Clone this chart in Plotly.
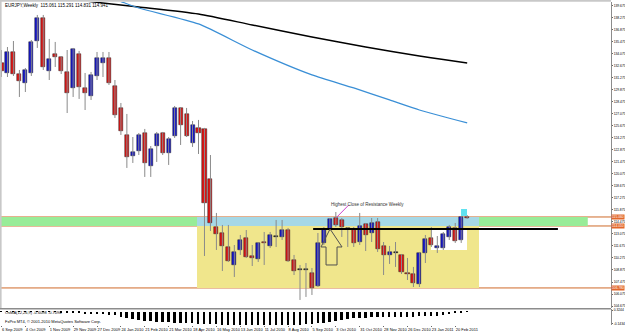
import plotly.graph_objects as go

# ---------------- data (EURJPY weekly) ----------------
date_labels = ["6 Sep 2009", "4 Oct 2009", "1 Nov 2009", "29 Nov 2009", "27 Dec 2009",
               "24 Jan 2010", "21 Feb 2010", "21 Mar 2010", "18 Apr 2010", "16 May 2010",
               "13 Jun 2010", "11 Jul 2010", "8 Aug 2010", "5 Sep 2010", "3 Oct 2010",
               "31 Oct 2010", "28 Nov 2010", "26 Dec 2010", "23 Jan 2011", "20 Feb 2011"]

opens = [133.03, 131.86, 134.31, 131.74, 130.69, 131.86, 135.59, 138.28, 132.09, 134.08,
         133.73, 131.98, 130.11, 134.08, 130.11, 129.18, 131.51, 133.03, 133.61, 130.34,
         127.78, 124.63, 122.18, 122.76, 124.86, 121.01, 123.34, 124.86, 122.53, 124.51,
         127.78, 127.08, 123.69, 125.44, 125.33, 119.49, 113.89, 113.19, 111.56, 109.46,
         111.21, 112.61, 110.51, 110.16, 112.14, 111.68, 112.73, 112.73, 113.54, 110.04,
         108.88, 108.88, 108.53, 107.01, 112.03, 113.66, 114.94, 114.71, 113.66, 113.66,
         112.14, 114.24, 113.19, 114.48, 111.68, 110.63, 110.86, 110.63, 108.53, 108.41,
         107.24, 110.86, 112.61, 111.44, 111.44, 112.73, 113.78, 112.38, 115.06]
highs = [134.54, 134.89, 135.59, 132.21, 132.44, 135.71, 138.63, 138.63, 135.83, 135.48,
         133.84, 134.54, 134.78, 134.43, 131.86, 131.98, 134.31, 134.31, 134.31, 131.04,
         128.36, 127.08, 124.39, 124.86, 125.33, 123.34, 124.98, 124.98, 124.39, 128.01,
         127.89, 127.78, 126.26, 126.38, 125.45, 122.29, 115.53, 114.13, 114.13, 111.79,
         112.96, 113.54, 111.79, 112.14, 113.31, 113.31, 114.71, 114.71, 113.78, 110.63,
         109.46, 109.69, 109.11, 113.19, 113.89, 114.94, 115.64, 114.94, 113.89, 113.89,
         115.53, 114.36, 114.94, 114.94, 112.14, 111.68, 112.14, 110.74, 110.28, 109.23,
         110.98, 112.96, 113.89, 112.84, 113.31, 114.13, 114.36, 115.18, 115.29]
lows = [131.39, 131.39, 131.51, 129.06, 129.64, 131.51, 134.78, 132.21, 131.04, 132.56,
        131.74, 127.19, 129.06, 128.83, 127.54, 128.71, 131.04, 131.39, 130.46, 126.61,
        124.63, 120.78, 121.36, 122.29, 119.73, 119.73, 121.48, 122.29, 121.13, 124.28,
        123.46, 124.39, 123.23, 122.41, 110.51, 113.43, 111.21, 108.76, 109.81, 108.06,
        110.63, 110.28, 109.34, 109.81, 109.46, 111.44, 111.56, 112.38, 109.81, 108.29,
        105.38, 105.73, 105.96, 106.89, 111.79, 113.43, 113.89, 112.73, 111.56, 111.56,
        111.79, 111.09, 112.14, 110.98, 108.29, 109.58, 109.23, 108.41, 107.71, 106.89,
        106.89, 109.69, 111.56, 110.86, 111.21, 112.38, 112.03, 112.03, 114.83]
closes = [132.09, 134.31, 131.74, 130.93, 132.21, 135.48, 138.28, 132.56, 133.49, 133.73,
          132.09, 129.53, 134.66, 130.23, 129.53, 131.63, 133.61, 133.61, 130.69, 126.96,
          125.09, 122.06, 122.64, 124.63, 121.36, 122.99, 124.74, 122.53, 124.16, 127.78,
          125.79, 124.51, 125.79, 124.86, 116.69, 114.36, 113.08, 111.68, 109.93, 110.98,
          112.38, 110.39, 110.28, 112.03, 112.03, 112.96, 112.73, 113.54, 109.93, 108.76,
          108.88, 108.88, 106.78, 112.03, 113.66, 114.83, 114.13, 113.89, 113.66, 112.03,
          114.01, 112.96, 114.36, 111.33, 110.63, 110.98, 110.86, 108.64, 108.41, 107.36,
          110.86, 112.49, 111.79, 111.68, 113.08, 113.89, 112.26, 115.06, 114.94]

# moving averages read at selected bars (bar index, price)
ma_black_idx = [0, 14, 23, 33, 42, 52, 61, 70, 74, 78]
ma_black_val = [141.43, 140.26, 139.56, 138.74, 137.46, 136.06, 134.89, 133.84, 133.43, 133.03]
ma_blue_idx = [15, 19, 23, 33, 42, 52, 59, 65, 70, 78]
ma_blue_val = [141.31, 140.45, 139.44, 137.58, 134.54, 131.63, 130.11, 128.71, 127.54, 126.03]

# oscillator histogram
osc = [-0.05, -0.05, -0.05, -0.05, -0.05, -0.05, -0.05, -0.05, -0.05, -0.05,
       -0.1, -0.1, -0.15, -0.15, -0.2, -0.2, -0.2, -0.25, -0.3, -0.3,
       -0.6, -0.7, -0.8, -0.9, -1.0, -1.0, -1.1, -1.1, -1.1, -1.2,
       -1.2, -1.2, -1.2, -1.3, -1.3, -1.3, -1.3, -1.4, -1.4, -1.4,
       -1.5, -1.5, -1.5, -1.5, -1.5, -1.5, -1.5, -1.5, -1.5, -1.5,
       -1.4, -1.3, -1.3, -1.2, -1.2, -1.1, -1.0, -0.9, -0.8, -0.7,
       -0.7, -0.7, -0.6, -0.6, -0.6, -0.6, -0.6, -0.6, -0.6, -0.6,
       -0.5, -0.5, -0.4, -0.4, -0.3, -0.2, -0.15, -0.1, -0.05]

price_ticks = [104.675 + 1.4 * k for k in range(26)]
levels = [115.06, 114.01, 106.78]            # horizontal level lines
zone_x = [32.75, 79.98]                       # bar-index span of the drawn zones
green_x_end = 98.2
trend_level = 113.66
trend_x = [52.2, 93.2]
white_box = [71.94, 77.97, 111.21, 113.54]
cyan_box = [76.97, 77.97, 115.18, 115.99]
arrow_pts = [(55.03, 113.66), (57.04, 111.56), (56.2, 111.56), (56.2, 109.46),
             (54.36, 109.46), (54.36, 111.56), (53.52, 111.56)]
note_text = "Highest Close of Resistance Weekly"
note_pos = (54.8, 116.51)
note_line = [(58.2, 116.48), (56.1, 115.0)]

# ---------------- figure ----------------
n = len(opens)
idx = list(range(n))
UP, DN = "#1414C8", "#DC1414"
colors = [UP if c > o else (DN if c < o else "#000000") for o, c in zip(opens, closes)]
base = [min(o, c) for o, c in zip(opens, closes)]
body = [max(abs(c - o), 0.1) for o, c in zip(opens, closes)]

wx, wy = [], []
for i, h, l in zip(idx, highs, lows):
    wx += [i, i, None]
    wy += [l, h, None]

fig = go.Figure()
fig.add_trace(go.Scatter(x=wx, y=wy, mode="lines", line=dict(color="#8a8a8a", width=1),
                         hoverinfo="skip", showlegend=False, xaxis="x", yaxis="y"))
fig.add_trace(go.Bar(x=idx, y=body, base=base, width=0.68,
                     marker=dict(color=colors, line=dict(color="#202020", width=0.5)),
                     showlegend=False, xaxis="x", yaxis="y"))
fig.add_trace(go.Scatter(x=ma_black_idx, y=ma_black_val, mode="lines",
                         line=dict(color="#000000", width=1.4, shape="spline", smoothing=0.6),
                         showlegend=False, xaxis="x", yaxis="y"))
fig.add_trace(go.Scatter(x=ma_blue_idx, y=ma_blue_val, mode="lines",
                         line=dict(color="#3a8fd6", width=1.3, shape="spline", smoothing=0.6),
                         showlegend=False, xaxis="x", yaxis="y"))
fig.add_trace(go.Bar(x=idx, y=osc, width=0.3, marker=dict(color="#000000", line=dict(width=0)),
                     showlegend=False, xaxis="x", yaxis="y2"))

XR = [-0.25, 102.09]
MAIN_BOT = 0.0526
SUB_TOP = 0.0495
shapes = []
# zones (below)
shapes.append(dict(type="rect", xref="x", yref="y", x0=XR[0], x1=green_x_end,
                   y0=levels[1], y1=levels[0], fillcolor="#98ec98", line=dict(width=0), layer="below"))
shapes.append(dict(type="rect", xref="x", yref="y", x0=zone_x[0], x1=zone_x[1],
                   y0=levels[1], y1=levels[0], fillcolor="#a6d8e6", line=dict(width=0), layer="below"))
shapes.append(dict(type="rect", xref="x", yref="y", x0=zone_x[0], x1=zone_x[1],
                   y0=levels[2], y1=levels[1], fillcolor="#f0e68c", line=dict(width=0), layer="below"))
shapes.append(dict(type="rect", xref="x", yref="y", x0=white_box[0], x1=white_box[1],
                   y0=white_box[2], y1=white_box[3], fillcolor="#ffffff", line=dict(width=0), layer="below"))
for lv in levels:
    shapes.append(dict(type="line", xref="paper", yref="y", x0=0, x1=1, y0=lv, y1=lv,
                       line=dict(color="#cf6a2a", width=1), layer="below"))
# drawings above
shapes.append(dict(type="line", xref="x", yref="y", x0=trend_x[0], x1=trend_x[1],
                   y0=trend_level, y1=trend_level, line=dict(color="#000000", width=2)))
path = "M " + " L ".join(f"{x},{y}" for x, y in arrow_pts) + " Z"
shapes.append(dict(type="path", xref="x", yref="y", path=path,
                   line=dict(color="#505050", width=1), fillcolor="rgba(0,0,0,0)"))
shapes.append(dict(type="rect", xref="x", yref="y", x0=cyan_box[0], x1=cyan_box[1],
                   y0=cyan_box[2], y1=cyan_box[3], fillcolor="#5fe2f0", line=dict(width=0)))
shapes.append(dict(type="line", xref="x", yref="y", x0=note_line[0][0], y0=note_line[0][1],
                   x1=note_line[1][0], y1=note_line[1][1], line=dict(color="#cc44cc", width=1)))
# frame
shapes.append(dict(type="line", xref="paper", yref="paper", x0=0, x1=1, y0=MAIN_BOT - 0.002,
                   y1=MAIN_BOT - 0.002, line=dict(color="#8c8c8c", width=1.5)))
shapes.append(dict(type="line", xref="paper", yref="paper", x0=0.001, x1=0.001, y0=MAIN_BOT, y1=1.006,
                   line=dict(color="#c8c8c8", width=2)))
shapes.append(dict(type="line", xref="paper", yref="paper", x0=0, x1=1, y0=1.004, y1=1.004,
                   line=dict(color="#c8c8c8", width=2)))

ann = []
F = "Liberation Sans"
ann.append(dict(xref="paper", yref="paper", x=0.005, y=0.9907, xanchor="left", yanchor="middle",
                text="EURJPY,Weekly  115.061 115.291 114.831 114.941", showarrow=False,
                font=dict(size=4.5, color="#000000", family=F)))
ann.append(dict(xref="x", yref="y", x=note_pos[0], y=note_pos[1], xanchor="left", yanchor="middle",
                text=note_text, showarrow=False, font=dict(size=4.5, color="#333333", family=F)))
ann.append(dict(xref="paper", yref="paper", x=0.005, y=0.040, xanchor="left", yanchor="middle",
                text="OsMA(12,26,9) -0.6098 -0.7090", showarrow=False,
                font=dict(size=4, color="#000000", family=F)))
ann.append(dict(xref="paper", yref="paper", x=0.005, y=0.0093, xanchor="left", yanchor="middle",
                text="FxPro MT4, © 2001-2010 MetaQuotes Software Corp.", showarrow=False,
                font=dict(size=4, color="#000000", family=F)))
for lv in levels:
    ann.append(dict(xref="paper", yref="y", x=1.0, y=lv, xanchor="left", yanchor="middle",
                    text=f"{lv:.3f}", showarrow=False, bgcolor="#e2662a", borderpad=0,
                    font=dict(size=3.3, color="#ffffff", family=F)))

fig.update_layout(
    template="none",
    width=625, height=334,
    margin=dict(l=0, r=14, t=2, b=9),
    paper_bgcolor="#ffffff", plot_bgcolor="#ffffff",
    barmode="overlay", bargap=0, showlegend=False,
    shapes=shapes, annotations=ann,
    xaxis=dict(range=XR, anchor="y2", showgrid=False, zeroline=False, showline=False,
               tickvals=list(range(0, 77, 4)), ticktext=date_labels, tickangle=0,
               ticklabelposition="outside right", ticks="outside", ticklen=1,
               tickcolor="#666666", tickfont=dict(size=4, color="#000000", family=F),
               automargin=False, fixedrange=True),
    yaxis=dict(domain=[MAIN_BOT, 1], range=[104.44, 140.14], side="right", anchor="x",
               showgrid=False, zeroline=False, showline=True, linecolor="#8c8c8c", linewidth=1,
               tickvals=price_ticks, tickformat=".3f", ticks="outside", ticklen=1,
               tickcolor="#666666", tickfont=dict(size=3.3, color="#000000", family=F),
               automargin=False),
    yaxis2=dict(domain=[0, SUB_TOP], range=[-1.35, 0.25], side="right", anchor="x",
                showgrid=False, zeroline=False, showline=True, linecolor="#8c8c8c", linewidth=1,
                tickvals=[0.15, -1.2], ticktext=["0.3244", "-0.1434"], ticks="outside", ticklen=1,
                tickcolor="#666666", tickfont=dict(size=3.3, color="#000000", family=F),
                automargin=False),
)

fig.write_html("out.html")
